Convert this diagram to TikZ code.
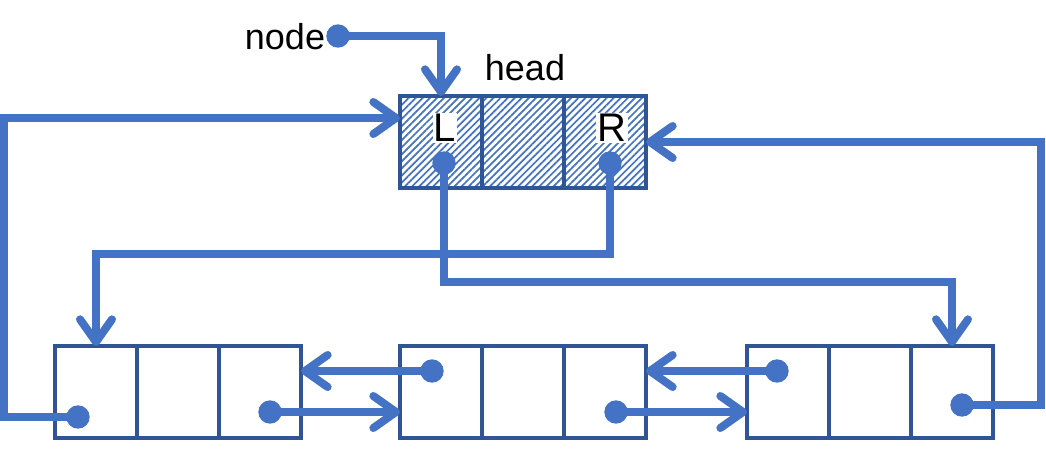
\documentclass[tikz,border=0pt]{standalone}
\usepackage{fontspec}
\setmainfont{Liberation Sans}
\usetikzlibrary{positioning,calc,arrows.meta,patterns.meta}
\definecolor{linkblue}{RGB}{68,114,196}
\definecolor{boxblue}{RGB}{47,85,151}

\begin{document}
\begin{tikzpicture}[x=0.75pt,y=0.75pt,yscale=-1,xscale=1,
  cell/.style={draw=boxblue,line width=2.4pt,minimum width=61.5pt,minimum height=69pt,inner sep=0pt,outer sep=0pt},
  hatched/.style={cell,pattern={Lines[angle=45,distance=3.75pt,line width=1.3pt]},pattern color=linkblue},
  dot/.style={circle,fill=linkblue,minimum size=17.5pt,inner sep=0pt},
  link/.style={draw=linkblue,line width=6pt,-{Straight Barb[length=17pt,width=24pt,round]}},
  lbl/.style={inner sep=1pt,font=\fontsize{27}{32}\selectfont},
  field/.style={inner sep=1pt,fill=white,font=\fontsize{30}{36}\selectfont}]
\useasboundingbox (0,0) rectangle (1046,450);

%Shape: head cells
\node[hatched] (hL) at (441,142) {};
\node[hatched,right=0pt of hL] (hM) {};
\node[hatched,right=0pt of hM] (hR) {};
%Shape: list cells
\node[cell] (aL) at (96,392) {};
\node[cell,right=0pt of aL] (aM) {};
\node[cell,right=0pt of aM] (aR) {};
\node[cell] (bL) at (441,392) {};
\node[cell,right=0pt of bL] (bM) {};
\node[cell,right=0pt of bM] (bR) {};
\node[cell] (cL) at (788,392) {};
\node[cell,right=0pt of cL] (cM) {};
\node[cell,right=0pt of cM] (cR) {};

% Text Node
\node[lbl] (tNode) at (285,37) {node};
% Text Node
\node[lbl] (tHead) at (525,68) {head};
% Text Node
\node[field] (tL) at (445,128) {L};
% Text Node
\node[field] (tR) at (612,128) {R};

%Shape: pointer dots
\node[dot] (dN) at (338,36) {};
\node[dot] (dHL) at (444,163) {};
\node[dot] (dHR) at (610,163) {};
\node[dot] (dAL) at (78,417) {};
\node[dot] (dAR) at (270,412) {};
\node[dot] (dBL) at (432,371) {};
\node[dot] (dBR) at (616,412) {};
\node[dot] (dCL) at (777,371) {};
\node[dot] (dCR) at (962,405) {};

%Straight Lines: head links
\draw[link] (dN.center) -| (hL.north);
\draw[link] (dHL.center) -- ++(0,119) -| (cR.north);
\draw[link] (dHR.center) -- ++(0,91) -| (aL.north);
\draw[link] (dAL.center) -- ++(-74,0) |- ($(hL.west)+(0,-24)$);
\draw[link] (dCR.center) -- ++(79,0) |- (hR.east);
%Straight Lines: list links
\draw[link] (dBL.center) -- (dBL.center -| aR.east);
\draw[link] (dAR.center) -- (dAR.center -| bL.west);
\draw[link] (dCL.center) -- (dCL.center -| bR.east);
\draw[link] (dBR.center) -- (dBR.center -| cL.west);

\end{tikzpicture}
\end{document}
